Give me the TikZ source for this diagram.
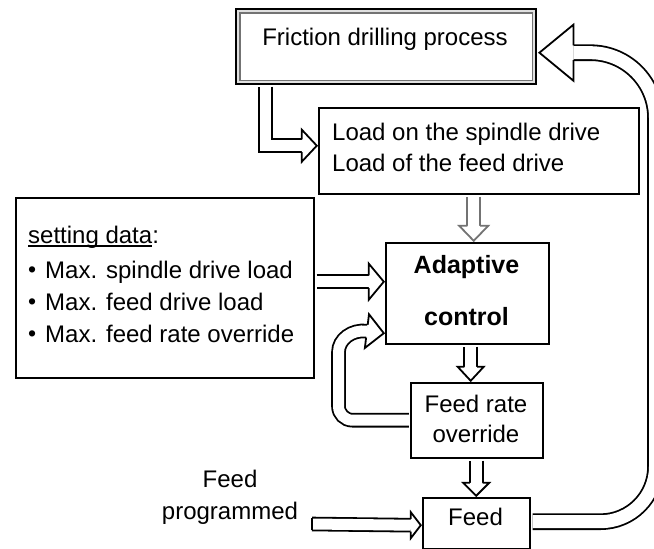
\documentclass[tikz,border=0pt]{standalone}
\usepackage{fontspec}
\setmainfont{Liberation Sans}
\usetikzlibrary{calc}

% open arrow head: tip, direction, length, half head width, half shaft width, colour
\newcommand\hollowtip[6]{%
  \coordinate (htb) at ($(#1)+({#2+180}:#3)$);
  \fill[white] ($(htb)+({#2+90}:#4)$) -- (#1) -- ($(htb)+({#2-90}:#4)$) -- cycle;
  \draw[#6, line width=1.8pt, line join=miter]
    ($(htb)+({#2+90}:#5)$) -- ($(htb)+({#2+90}:#4)$) -- (#1)
    -- ($(htb)+({#2-90}:#4)$) -- ($(htb)+({#2-90}:#5)$);
}
\newcommand\ulinetext[1]{\setbox0\hbox{#1}\rlap{\rule[-3.5pt]{\wd0}{1.3pt}}\box0}
\newcommand\bul{\makebox[17pt][l]{\raisebox{0.5pt}{\fontsize{23}{23}\selectfont\textbullet}}}

\begin{document}
\begin{tikzpicture}[x=1pt,y=-1pt,
  box/.style={draw, line width=2.4pt, inner sep=0pt, fill=white, anchor=north west},
  hshaft/.style={draw=black, double=white, double distance=#1, line width=1.8pt, line join=miter},
  hshaft/.default=11pt,
  txt/.style={font=\fontsize{24}{28}\selectfont, inner sep=0pt},
  btxt/.style={font=\fontsize{25}{29}\selectfont\bfseries, inner sep=0pt}]

\useasboundingbox (0,0) rectangle (654,549);
\clip (0,0) rectangle (654,549);

% ---- blocks ----
\node[box, fill=black!12, minimum width=300pt, minimum height=75pt] (fric) at (235,8) {};
\draw[black!55, line width=1.2pt, fill=white]
  ($(fric.north west)+(5,5)$) rectangle ($(fric.south east)+(-5,-5)$);
\node[box, minimum width=320pt, minimum height=86pt] (load) at (318,107) {};
\node[box, minimum width=298pt, minimum height=180pt] (setting) at (15,197) {};
\node[box, minimum width=163pt, minimum height=101pt] (adapt) at (385,242) {};
\node[box, minimum width=132pt, minimum height=75pt] (over) at (410,382) {};
\node[box, minimum width=107pt, minimum height=51pt] (feed) at (422,497) {};

% ---- texts ----
\node[txt, anchor=base] at (385,45) {Friction drilling process};
\node[txt, anchor=base west] at (332,140) {Load on the spindle drive};
\node[txt, anchor=base west] at (332,171) {Load of the feed drive};
\node[txt, anchor=base west] at (28,243) {\ulinetext{setting data}:};
\node[txt, anchor=base west] at (28,278) {\bul Max. spindle drive load};
\node[txt, anchor=base west] at (28,310) {\bul Max. feed drive load};
\node[txt, anchor=base west] at (28,342) {\bul Max. feed rate override};
\node[btxt, anchor=base] at (466.5,273) {Adaptive};
\node[btxt, anchor=base] at (466.5,325) {control};
\node[txt, anchor=base] at (476,412) {Feed rate};
\node[txt, anchor=base] at (476,442) {override};
\node[txt, anchor=base] at (475.5,525) {Feed};
\node[txt, anchor=base] at (230,487) {Feed};
\node[txt, anchor=base] at (230,519) {programmed};

% ---- connectors ----
% process -> loads
\coordinate (a1s) at ($(fric.south west)+(30.5,1.2)$);
\coordinate (a1t) at ($(load.west)+(-1.2,-5.5)$);
\draw[hshaft] (a1s) |- ($(a1t)+(-15,0)$);
\hollowtip{a1t}{0}{15}{16}{6.4}{black}

% loads -> adaptive control
\coordinate (a2s) at ($(load.south)+(-5.5,1.2)$);
\coordinate (a2t) at ($(adapt.north)+(6,-1.2)$);
\draw[hshaft, draw=black!55] (a2s) -- ($(a2t)+(0,-15)$);
\hollowtip{a2t}{90}{15}{14.5}{6.4}{black!55}

% setting data -> adaptive control
\coordinate (a3s) at ($(setting.east)+(1.2,-6.5)$);
\coordinate (a3t) at ($(adapt.west)+(-1.2,-12)$);
\draw[hshaft] (a3s) -- ($(a3t)+(-15,0)$);
\hollowtip{a3t}{0}{15}{18}{6.4}{black}

% feed rate override -> adaptive control (feedback)
\coordinate (a4s) at ($(over.west)+(-1.2,-0.5)$);
\coordinate (a4t) at ($(adapt.west)+(-1.2,39.5)$);
\coordinate (a4c) at ($(over.west)+(-71.5,-54.5)$);
\coordinate (a4b) at ($(a4t)+(187:17)$);
\draw[hshaft] [rounded corners=14pt] (a4s) -| (a4c) [sharp corners]
  .. controls +(0,-27) and ($(a4b)+(-15,-1.8)$) .. (a4b);
\hollowtip{a4t}{7}{17}{17}{6.4}{black}

% adaptive control -> feed rate override
\coordinate (a5s) at ($(adapt.south)+(3,1.2)$);
\coordinate (a5t) at ($(over.north)+(-6.5,-1.2)$);
\draw[hshaft] (a5s) -- ($(a5t)+(0,-14)$);
\hollowtip{a5t}{90}{14}{13}{6.4}{black}

% feed rate override -> feed
\coordinate (a6s) at ($(over.south)+(-1,1.2)$);
\coordinate (a6t) at ($(feed.north)+(-0.5,-1.2)$);
\draw[hshaft] (a6s) -- ($(a6t)+(0,-13)$);
\hollowtip{a6t}{90}{13}{13}{6.4}{black}

% programmed feed -> feed
\coordinate (a7s) at (312,524);
\coordinate (a7t) at ($(feed.west)+(-1.2,1.5)$);
\draw[hshaft] (a7s) -- ($(a7t)+(-10,0)$);
\draw[line width=1.8pt, line cap=square] ($(a7s)+(0,-6.4)$) -- ($(a7s)+(0,6.4)$);
\hollowtip{a7t}{0}{10}{13}{6.4}{black}

% feed -> friction drilling process (outer loop)
\coordinate (a8s) at ($(feed.east)+(1.2,-2)$);
\coordinate (a8t) at ($(fric.east)+(2,6)$);
\coordinate (a8r) at (655.5,300);
\draw[hshaft=13pt] [rounded corners=55pt] (a8s) -| (a8r)
  [rounded corners=65pt] |- ($(a8t)+(34,0)$);
\hollowtip{a8t}{180}{34}{28}{7.4}{black}

\end{tikzpicture}
\end{document}
